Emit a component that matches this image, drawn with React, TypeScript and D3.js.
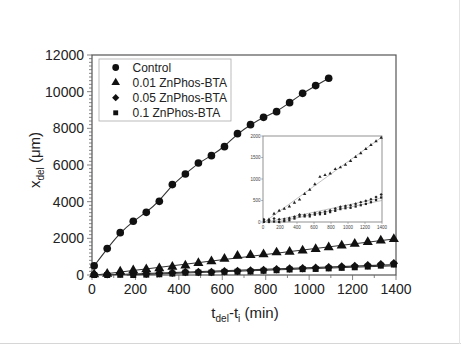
import React from "react";
import * as d3 from "d3";

const timeControl = [10, 70, 130, 190, 250, 310, 370, 430, 490, 550, 610, 670, 730, 790, 850, 910, 970, 1030, 1090];
const control = [500, 1440, 2310, 2930, 3420, 4020, 4930, 5510, 6110, 6510, 7000, 7710, 8200, 8600, 8910, 9400, 9910, 10330, 10730];

const timeLong = [10, 70, 130, 190, 250, 310, 370, 430, 490, 550, 610, 670, 730, 790, 850, 910, 970, 1030, 1090, 1150, 1210, 1270, 1330, 1390];
const zn001 = [30, 60, 190, 260, 310, 360, 450, 520, 650, 750, 880, 1050, 1090, 1130, 1230, 1270, 1330, 1420, 1510, 1600, 1700, 1790, 1880, 1960];
const zn005 = [60, 40, 80, 60, 70, 90, 120, 170, 160, 170, 210, 220, 240, 270, 310, 350, 370, 390, 420, 460, 490, 530, 580, 640];
const zn01 = [0, 0, 10, 0, 20, 40, 80, 130, 130, 130, 170, 180, 190, 230, 260, 300, 320, 330, 360, 390, 420, 460, 510, 570];

const legendLabels = ["Control", "0.01 ZnPhos-BTA", "0.05 ZnPhos-BTA", "0.1 ZnPhos-BTA"];
const xTicks = [0, 200, 400, 600, 800, 1000, 1200, 1400];
const yTicks = [0, 2000, 4000, 6000, 8000, 10000, 12000];
const insetYTicks = [0, 500, 1000, 1500, 2000];

const FONT = "'Liberation Sans', Arial, sans-serif";
const INK = "#222";

function linFit(xs: number[], ys: number[]) {
  const mx = d3.mean(xs)!;
  const my = d3.mean(ys)!;
  let num = 0, den = 0;
  xs.forEach((x, i) => { num += (x - mx) * (ys[i] - my); den += (x - mx) * (x - mx); });
  const b = num / den;
  const a = my - b * mx;
  return { a, b };
}

function fitPoints(xs: number[], ys: number[], x0: number, x1: number) {
  const { a, b } = linFit(xs, ys);
  let start = x0;
  if (a < 0 && b > 0) start = Math.max(x0, -a / b);
  return [[start, a + b * start], [x1, a + b * x1]] as [number, number][];
}

const symCircle = d3.symbol().type(d3.symbolCircle);
const symTri = d3.symbol().type(d3.symbolTriangle);
const symSq = d3.symbol().type(d3.symbolSquare);

export default function App() {
  const W = 461, H = 345;
  const x = d3.scaleLinear().domain([0, 1400]).range([92, 396]);
  const y = d3.scaleLinear().domain([0, 12000]).range([275, 55]);
  const ix = d3.scaleLinear().domain([0, 1400]).range([263, 382]);
  const iy = d3.scaleLinear().domain([0, 2000]).range([222, 136]);

  const ctrlLine = d3.line<number>().x((_, i) => x(timeControl[i])).y((d) => y(d)).curve(d3.curveBasis);
  const seg = (sx: any, sy: any) => d3.line<[number, number]>().x((d) => sx(d[0])).y((d) => sy(d[1]));

  const fits = [zn001, zn005, zn01].map((s) => fitPoints(timeLong, s, 0, 1400));

  const minorY = d3.range(0, 12001, 200);
  const minorX = d3.range(0, 1401, 100);

  return (
    <svg width={W} height={H} style={{ position: "absolute", left: 0, top: 0, background: "#fff" }} fontFamily={FONT}>
      <rect x={0} y={0} width={W} height={H} fill="#fff" />
      <line x1={0} x2={W} y1={343.5} y2={343.5} stroke="#d6d6d6" />
      <line x1={459.5} x2={459.5} y1={0} y2={344} stroke="#e4e4e4" />
      <defs>
        <clipPath id="insetClip">
          <rect x={263} y={134} width={121} height={90} />
        </clipPath>
      </defs>

      {/* main frame */}
      <rect x={92} y={55} width={304} height={220} fill="none" stroke="#555" strokeWidth={1.2} />

      {/* y ticks */}
      {minorY.map((v) => (
        <line key={"my" + v} x1={92} x2={v % 2000 === 0 ? 87 : 89} y1={y(v)} y2={y(v)} stroke="#666" strokeWidth={0.8} />
      ))}
      {yTicks.map((v) => (
        <text key={"yt" + v} x={84} y={y(v)} dy="0.35em" textAnchor="end" fontSize={14} fill={INK}>{v}</text>
      ))}
      {/* x ticks */}
      {minorX.map((v) => (
        <line key={"mx" + v} x1={x(v)} x2={x(v)} y1={275} y2={v % 200 === 0 ? 280 : 278} stroke="#666" strokeWidth={0.8} />
      ))}
      {xTicks.map((v) => (
        <text key={"xt" + v} x={x(v)} y={294} textAnchor="middle" fontSize={14} fill={INK}>{v}</text>
      ))}

      {/* axis titles */}
      <text x={245} y={318} textAnchor="middle" fontSize={15} fill={INK}>
        t<tspan fontSize={10} dy={4}>del</tspan><tspan dy={-4}>-t</tspan><tspan fontSize={10} dy={4}>i</tspan><tspan dy={-4}> (min)</tspan>
      </text>
      <text transform="translate(40,160) rotate(-90)" textAnchor="middle" fontSize={15} fill={INK}>
        x<tspan fontSize={10} dy={4}>del</tspan><tspan dy={-4}> (μm)</tspan>
      </text>

      {/* fit lines */}
      {fits.map((f, i) => (
        <path key={"fit" + i} d={seg(x, y)(f)!} fill="none" stroke="#333" strokeWidth={1.1} />
      ))}
      <path d={ctrlLine(control)!} fill="none" stroke="#333" strokeWidth={1.1} />

      {/* markers */}
      {zn01.map((v, i) => (
        <path key={"s" + i} d={symSq.size(36)()!} transform={`translate(${x(timeLong[i])},${y(v)})`} fill="#111" />
      ))}
      {zn005.map((v, i) => (
        <path key={"d" + i} d={symSq.size(36)()!} transform={`translate(${x(timeLong[i])},${y(v)}) rotate(45)`} fill="#111" />
      ))}
      {zn001.map((v, i) => (
        <path key={"t" + i} d={symTri.size(44)()!} transform={`translate(${x(timeLong[i])},${y(v)})`} fill="#111" />
      ))}
      {control.map((v, i) => (
        <path key={"c" + i} d={symCircle.size(46)()!} transform={`translate(${x(timeControl[i])},${y(v)})`} fill="#111" />
      ))}

      {/* legend */}
      <rect x={99} y={59} width={132} height={62} fill="#fff" stroke="#aaa" strokeWidth={0.8} />
      {legendLabels.map((l, i) => {
        const yy = 67.5 + i * 15.1;
        const sym = [symCircle, symTri, symSq, symSq][i];
        const sz = [36, 32, 26, 24][i];
        const rot = i === 2 ? " rotate(45)" : "";
        return (
          <g key={"lg" + i}>
            <path d={sym.size(sz)()!} transform={`translate(115.7,${yy})${rot}`} fill="#111" />
            <text x={132.5} y={yy} dy="0.36em" fontSize={12} fill={INK}>{l}</text>
          </g>
        );
      })}

      {/* inset */}
      <rect x={263} y={136} width={119} height={86} fill="#fff" stroke="#777" strokeWidth={0.8} />
      {insetYTicks.map((v) => (
        <g key={"iy" + v}>
          <line x1={263} x2={261} y1={iy(v)} y2={iy(v)} stroke="#777" strokeWidth={0.5} />
          <text x={260.5} y={iy(v)} dy="0.35em" textAnchor="end" fontSize={4.5} fill="#444">{v}</text>
        </g>
      ))}
      {xTicks.map((v) => (
        <g key={"ix" + v}>
          <line x1={ix(v)} x2={ix(v)} y1={222} y2={224} stroke="#777" strokeWidth={0.5} />
          <text x={ix(v)} y={229} textAnchor="middle" fontSize={4.5} fill="#444">{v}</text>
        </g>
      ))}
      <g clipPath="url(#insetClip)">
        {fits.map((f, i) => (
          <path key={"ifit" + i} d={seg(ix, iy)(f)!} fill="none" stroke="#999" strokeWidth={0.6} />
        ))}
        {zn01.map((v, i) => (
          <path key={"is" + i} d={symSq.size(5)()!} transform={`translate(${ix(timeLong[i])},${iy(v)})`} fill="#222" />
        ))}
        {zn005.map((v, i) => (
          <path key={"id" + i} d={symSq.size(5)()!} transform={`translate(${ix(timeLong[i])},${iy(v)}) rotate(45)`} fill="#222" />
        ))}
        {zn001.map((v, i) => (
          <path key={"it" + i} d={symTri.size(5)()!} transform={`translate(${ix(timeLong[i])},${iy(v)})`} fill="#222" />
        ))}
      </g>
    </svg>
  );
}
